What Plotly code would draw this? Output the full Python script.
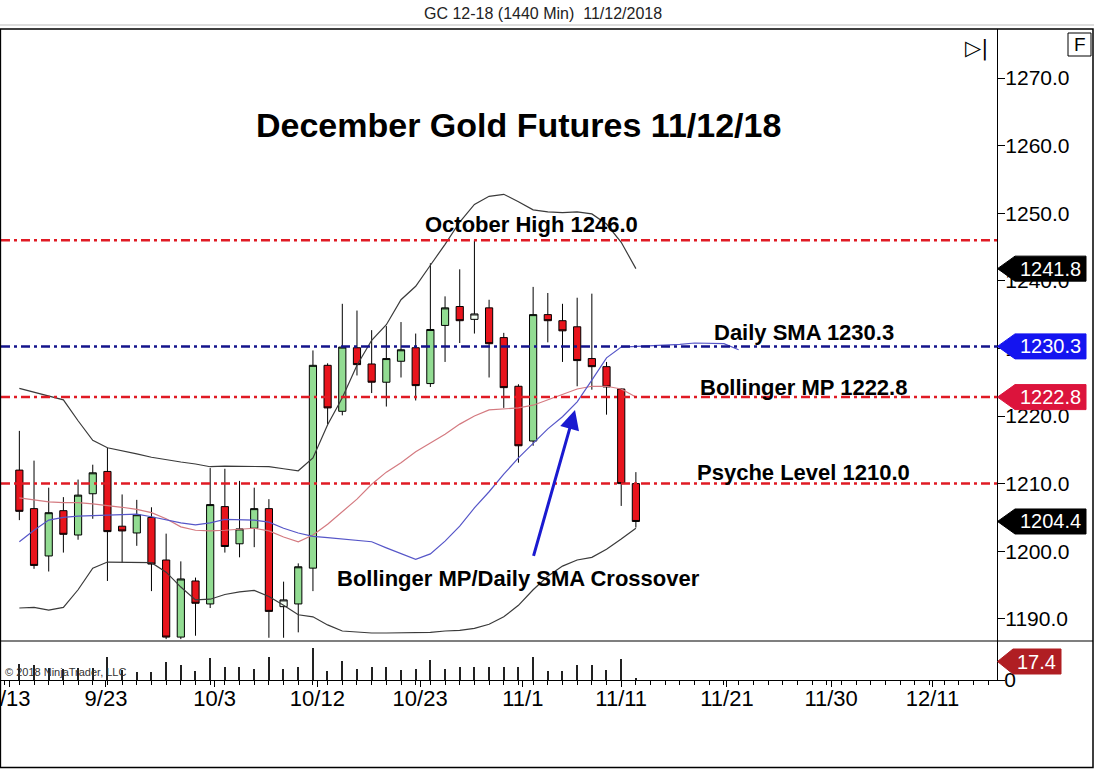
import plotly.graph_objects as go

# ---------------- data ----------------
bar_index = list(range(43))
opens = [1212.0, 1206.3, 1199.3, 1206.0, 1202.4, 1208.5, 1211.8, 1203.7, 1202.7, 1205.0,
         1198.7, 1187.3, 1195.6, 1192.2, 1206.6, 1201.1, 1203.4, 1206.3, 1191.8, 1192.2,
         1197.5, 1227.5, 1220.7, 1230.1, 1227.7, 1225.0, 1228.1, 1230.1, 1224.8, 1233.4,
         1236.2, 1234.3, 1236.0, 1231.6, 1224.4, 1216.3, 1235.0, 1234.1, 1233.2, 1228.5,
         1227.3, 1224.0, 1210.0]
highs = [1217.8, 1213.4, 1209.4, 1208.0, 1210.6, 1212.8, 1215.3, 1208.4, 1207.6, 1206.5,
         1202.6, 1198.5, 1196.1, 1212.3, 1212.2, 1210.4, 1209.4, 1207.7, 1195.5, 1198.2,
         1229.7, 1227.8, 1236.6, 1235.6, 1232.7, 1233.3, 1233.9, 1232.2, 1242.6, 1237.7,
         1241.7, 1246.0, 1237.2, 1232.3, 1224.7, 1239.1, 1238.2, 1236.6, 1237.5, 1238.1,
         1228.0, 1224.1, 1211.7]
lows = [1204.6, 1197.4, 1197.0, 1199.8, 1201.7, 1204.8, 1195.6, 1198.3, 1200.8, 1194.1,
        1187.0, 1187.0, 1187.5, 1191.6, 1199.8, 1199.1, 1200.6, 1187.2, 1187.2, 1188.0,
        1194.1, 1218.8, 1220.1, 1226.0, 1223.4, 1221.4, 1225.7, 1222.3, 1224.3, 1228.0,
        1230.8, 1232.2, 1225.7, 1221.2, 1213.1, 1215.6, 1230.9, 1228.0, 1224.4, 1223.9,
        1220.2, 1206.7, 1203.5]
closes = [1205.9, 1197.9, 1205.7, 1202.5, 1208.3, 1211.6, 1202.9, 1203.0, 1205.4, 1198.1,
          1187.3, 1195.9, 1192.3, 1206.9, 1200.7, 1203.3, 1206.3, 1191.1, 1192.8, 1197.7,
          1227.5, 1221.2, 1230.2, 1227.6, 1225.0, 1228.5, 1229.8, 1224.5, 1232.8, 1236.0,
          1234.1, 1235.1, 1230.7, 1224.2, 1215.6, 1235.0, 1234.1, 1232.6, 1228.2, 1227.3,
          1224.3, 1210.0, 1204.4]
doji_bars = [18, 31]

volume_k = [200, 186, 150, 140, 160, 150, 295, 130, 100, 100,
            230, 186, 121, 286, 173, 165, 143, 295, 143, 165,
            416, 121, 243, 143, 165, 173, 130, 143, 260, 143,
            173, 173, 173, 173, 173, 295, 113, 121, 186, 186,
            130, 273, 17.4]

bb_upper = [1224.1, 1223.5, 1223.0, 1222.4, 1219.3, 1216.4, 1215.3, 1214.9, 1214.4, 1213.9,
            1213.5, 1213.2, 1212.9, 1212.5, 1212.6, 1212.6, 1212.6, 1212.5, 1212.2, 1211.9,
            1213.8, 1218.7, 1222.7, 1227.5, 1231.2, 1233.5, 1237.2, 1239.2, 1242.3, 1245.4,
            1248.7, 1251.3, 1252.5, 1252.8, 1251.7, 1250.5, 1250.2, 1250.1, 1250.2, 1249.9,
            1248.4, 1245.7, 1241.8]
bb_lower = [1191.6, 1191.7, 1191.3, 1191.7, 1194.3, 1197.5, 1198.4, 1198.4, 1198.4, 1198.3,
            1196.9, 1194.7, 1192.8, 1192.9, 1193.6, 1194.0, 1194.2, 1193.3, 1192.0, 1190.6,
            1190.3, 1189.1, 1188.2, 1188.0, 1187.9, 1187.9, 1187.9, 1188.0, 1188.0, 1188.2,
            1188.3, 1188.6, 1189.2, 1190.3, 1192.0, 1194.3, 1196.3, 1197.8, 1198.7, 1199.1,
            1200.3, 1201.8, 1203.4]
bb_mid = [1207.9, 1207.6, 1207.3, 1207.2, 1207.2, 1207.0, 1206.8, 1206.5, 1206.2, 1205.7,
          1204.8, 1203.6, 1203.1, 1203.0, 1203.1, 1203.3, 1203.4, 1203.0, 1202.1, 1201.4,
          1202.4, 1204.0, 1205.8, 1207.7, 1209.9, 1211.7, 1213.1, 1214.7, 1216.0, 1217.3,
          1218.8, 1220.0, 1220.9, 1221.1, 1221.2, 1221.6, 1222.4, 1223.3, 1224.0, 1224.4,
          1224.4, 1224.0, 1222.8]
sma_index = list(range(50))
daily_sma = [1201.4, 1203.1, 1204.6, 1205.0, 1205.2, 1205.3, 1205.4, 1205.4, 1205.5, 1205.1,
             1204.6, 1204.2, 1203.9, 1204.2, 1204.7, 1204.7, 1204.6, 1204.3, 1203.4, 1202.7,
             1202.2, 1202.0, 1201.8, 1201.7, 1201.4, 1200.5, 1199.6, 1198.8, 1199.6, 1201.5,
             1203.7, 1206.4, 1208.8, 1211.4, 1213.8, 1216.0, 1218.1, 1219.9, 1222.1, 1225.3,
             1228.6, 1230.2, 1230.3, 1230.4, 1230.4, 1230.6, 1230.8, 1230.7, 1230.7, 1229.8]

level_names = ["October High", "Daily SMA", "Bollinger MP", "Psyche Level"]
level_values = [1246.0, 1230.3, 1222.8, 1210.0]
level_colors = ["#e01b24", "#14148c", "#e01b24", "#e01b24"]

marker_values = [1241.8, 1230.3, 1222.8, 1204.4]
marker_colors = ["#000000", "#1414f0", "#dc143c", "#000000"]
volume_marker = 17.4

tick_labels = ["9/13", "9/23", "10/3", "10/12", "10/23", "11/1", "11/11", "11/21", "11/30", "12/11"]
tick_pos = [-0.7, 5.9, 13.3, 20.3, 27.3, 34.3, 41.0, 48.2, 55.3, 62.2]

FONT = "Liberation Sans, Arial, sans-serif"

# ---------------- figure ----------------
fig = go.Figure()

# indicator lines
fig.add_trace(go.Scatter(x=bar_index, y=bb_upper, mode="lines",
                         line=dict(color="#3a3a3a", width=1.2), hoverinfo="skip"))
fig.add_trace(go.Scatter(x=bar_index, y=bb_lower, mode="lines",
                         line=dict(color="#3a3a3a", width=1.2), hoverinfo="skip"))
fig.add_trace(go.Scatter(x=bar_index, y=bb_mid, mode="lines",
                         line=dict(color="#d47a80", width=1.2), hoverinfo="skip"))
fig.add_trace(go.Scatter(x=sma_index, y=daily_sma, mode="lines",
                         line=dict(color="#5656c8", width=1.2), hoverinfo="skip"))

# candles
main = [i for i in bar_index if i not in doji_bars]
fig.add_trace(go.Candlestick(
    x=main, open=[opens[i] for i in main], high=[highs[i] for i in main],
    low=[lows[i] for i in main], close=[closes[i] for i in main],
    increasing=dict(line=dict(color="black", width=1), fillcolor="#92dc92"),
    decreasing=dict(line=dict(color="black", width=1), fillcolor="#e8141c"),
    whiskerwidth=0, hoverinfo="skip"))
fig.add_trace(go.Candlestick(
    x=doji_bars, open=[opens[i] for i in doji_bars], high=[highs[i] for i in doji_bars],
    low=[lows[i] for i in doji_bars], close=[closes[i] for i in doji_bars],
    increasing=dict(line=dict(color="black", width=1), fillcolor="#f4fff4"),
    decreasing=dict(line=dict(color="black", width=1), fillcolor="#f4fff4"),
    whiskerwidth=0, hoverinfo="skip"))

# volume
fig.add_trace(go.Bar(x=bar_index, y=volume_k, yaxis="y2", width=0.09,
                     marker=dict(color="#222222", line=dict(width=0)), hoverinfo="skip"))

shapes = []
annotations = []

# level lines + labels
label_pos = {"October High": (34.9, 1248.4), "Daily SMA": (53.45, 1232.4),
             "Bollinger MP": (53.45, 1224.15), "Psyche Level": (53.45, 1211.6)}
for name, val, col in zip(level_names, level_values, level_colors):
    shapes.append(dict(type="line", xref="paper", yref="y", x0=0, x1=1, y0=val, y1=val,
                       line=dict(color=col, width=2.5, dash="9px,4px,3px,4px")))
    lx, ly = label_pos[name]
    annotations.append(dict(x=lx, y=ly, xref="x", yref="y", text=f"<b>{name} {val:.1f}</b>",
                            showarrow=False, xanchor="center", yanchor="middle",
                            font=dict(family=FONT, size=22, color="black")))

# price markers on the right axis
def px2paper(px):
    return (px - 1) / 996.0

def py2paper(py):
    return (680 - py) / 651.0

half = 1.85
for val, col in zip(marker_values, marker_colors):
    tip = px2paper(997.5)
    x0 = px2paper(1015)
    x1 = px2paper(1086)
    path = (f"M {tip},{val} L {x0},{val + half} L {x1},{val + half} "
            f"L {x1},{val - half} L {x0},{val - half} Z")
    shapes.append(dict(type="path", xref="paper", yref="y", path=path,
                       fillcolor=col, line=dict(color=col, width=1)))
    annotations.append(dict(x=px2paper(1083), y=val, xref="paper", yref="y", text=f"{val:.1f}",
                            showarrow=False, xanchor="right", yanchor="middle",
                            font=dict(family=FONT, size=20, color="white")))

# volume marker (paper coords)
vy = py2paper(661.5)
vh = 12.5 / 651.0
tip = px2paper(997.5)
x0 = px2paper(1013)
x1 = px2paper(1061)
shapes.append(dict(type="path", xref="paper", yref="paper",
                   path=f"M {tip},{vy} L {x0},{vy + vh} L {x1},{vy + vh} L {x1},{vy - vh} L {x0},{vy - vh} Z",
                   fillcolor="#b01e23", line=dict(color="#b01e23", width=1)))
annotations.append(dict(x=px2paper(1058), y=vy, xref="paper", yref="paper", text=f"{volume_marker:.1f}",
                        showarrow=False, xanchor="right", yanchor="middle",
                        font=dict(family=FONT, size=20, color="white")))

# frames
dom_split = py2paper(641)
shapes.append(dict(type="rect", xref="paper", yref="paper", x0=-0.0006, x1=px2paper(1093),
                   y0=py2paper(767.5), y1=1.0, line=dict(color="black", width=1.5)))
shapes.append(dict(type="line", xref="paper", yref="paper", x0=-0.001, x1=px2paper(1093),
                   y0=dom_split, y1=dom_split, line=dict(color="black", width=1.2)))
shapes.append(dict(type="line", xref="paper", yref="paper", x0=-0.001, x1=px2paper(1094),
                   y0=py2paper(25), y1=py2paper(25), line=dict(color="#bbbbbb", width=1)))
# "F" box
shapes.append(dict(type="rect", xref="paper", yref="paper", x0=px2paper(1068), x1=px2paper(1091),
                   y0=py2paper(56), y1=py2paper(33), line=dict(color="black", width=1),
                   fillcolor="white"))
annotations.append(dict(x=px2paper(1079.5), y=py2paper(44.5), xref="paper", yref="paper",
                        text="F", showarrow=False, xanchor="center", yanchor="middle",
                        font=dict(family=FONT, size=19, color="black")))
annotations.append(dict(x=px2paper(976), y=py2paper(48), xref="paper", yref="paper",
                        text="▷|", showarrow=False, xanchor="center", yanchor="middle",
                        font=dict(family="DejaVu Sans", size=21, color="black")))

# titles & texts
annotations.append(dict(x=px2paper(543), y=py2paper(14), xref="paper", yref="paper",
                        text="GC 12-18 (1440 Min)  11/12/2018", showarrow=False,
                        xanchor="center", yanchor="middle",
                        font=dict(family=FONT, size=16, color="#222222")))
annotations.append(dict(x=34.0, y=1263.0, xref="x", yref="y",
                        text="<b>December Gold Futures 11/12/18</b>", showarrow=False,
                        xanchor="center", yanchor="middle",
                        font=dict(family=FONT, size=34, color="black")))
annotations.append(dict(x=34.0, y=1196.0, xref="x", yref="y",
                        text="<b>Bollinger MP/Daily SMA Crossover</b>", showarrow=False,
                        xanchor="center", yanchor="middle",
                        font=dict(family=FONT, size=22, color="black")))
annotations.append(dict(x=37.85, y=1220.9, ax=35.0, ay=1199.1, xref="x", yref="y",
                        axref="x", ayref="y", text="", showarrow=True, arrowhead=2,
                        arrowsize=1.3, arrowwidth=3, arrowcolor="#1a1ad0"))
annotations.append(dict(x=px2paper(3), y=py2paper(672), xref="paper", yref="paper",
                        text="© 2018 NinjaTrader, LLC", showarrow=False, xanchor="left",
                        yanchor="middle",
                        font=dict(family=FONT, size=11, color="#333333")))

fig.update_layout(
    width=1094, height=769,
    margin=dict(l=1, r=97, t=29, b=89, autoexpand=False),
    paper_bgcolor="white", plot_bgcolor="white",
    showlegend=False,
    shapes=shapes, annotations=annotations,
    bargap=0,
    xaxis=dict(range=[-1.25, 66.6], anchor="y2", rangeslider=dict(visible=False),
               automargin=False,
               tickmode="array", tickvals=tick_pos, ticktext=tick_labels,
               ticklabeloverflow="allow", ticklabelstandoff=-8,
               ticks="outside", ticklen=6, tickcolor="black", showgrid=False, zeroline=False,
               showline=True, linecolor="black", linewidth=1.2,
               tickfont=dict(family=FONT, size=22, color="black"),
               minor=dict(ticks="outside", ticklen=4, tickcolor="black", dtick=1, tick0=0)),
    yaxis=dict(domain=[dom_split, 1.0], range=[1186.72, 1277.25], side="right",
               automargin=False, ticklabelstandoff=-4,
               tickmode="array", tickvals=[1190, 1200, 1210, 1220, 1230, 1240, 1250, 1260, 1270],
               tickformat=".1f", ticks="outside", ticklen=7, tickcolor="black",
               showgrid=False, zeroline=False, showline=True, linecolor="black", linewidth=1.2,
               tickfont=dict(family=FONT, size=21, color="black")),
    yaxis2=dict(domain=[0, dom_split], range=[0, 500], side="right", anchor="x",
                automargin=False, ticklabelstandoff=-5,
                tickmode="array", tickvals=[0], ticktext=["0"], ticks="outside", ticklen=7,
                tickcolor="black", showgrid=False, zeroline=False, showline=True,
                linecolor="black", linewidth=1.2,
                tickfont=dict(family=FONT, size=21, color="black")),
)

fig.write_html("out.html", config={"displayModeBar": False},
               post_script="document.body.style.margin='0';document.body.style.overflow='hidden';")
